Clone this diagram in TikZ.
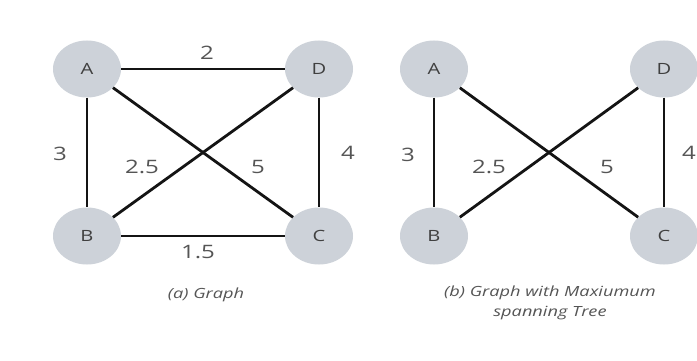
\documentclass[tikz,border=0pt]{standalone}
\usepackage{fontspec}
\usepackage{graphicx}
\setmainfont{Open Sans}
\usetikzlibrary{shapes.geometric}
\definecolor{nodefill}{HTML}{CDD2D9}
\definecolor{labelgray}{HTML}{555555}
\newcommand{\wid}[1]{\scalebox{1.3}[1]{#1}}
\begin{document}
\begin{tikzpicture}[x=1pt,y=-1pt,
  vertex/.style={ellipse,fill=nodefill,minimum width=68pt,minimum height=57pt,inner sep=0pt,
    font=\fontsize{15.5}{17}\selectfont,text=black!75},
  edge/.style={line width=2.8pt,draw=black!92},
  wlabel/.style={font=\fontsize{18.5}{20}\selectfont,text=labelgray,inner sep=0pt},
  caption/.style={font=\itshape\fontsize{14}{20}\selectfont,text=labelgray,align=center,inner sep=0pt}]
\clip (0,0) rectangle (697,361);
\useasboundingbox (0,0) rectangle (697,361);
\fill[white] (0,0) rectangle (697,361);
% left graph
\node[vertex] (A1) at (87,69) {\wid{A}};
\node[vertex] (D1) at (319,69) {\wid{D}};
\node[vertex] (B1) at (87,236) {\wid{B}};
\node[vertex] (C1) at (319,236) {\wid{C}};
\draw[edge] (A1) -- (D1);
\draw[edge] (A1) -- (B1);
\draw[edge] (D1) -- (C1);
\draw[edge] (B1) -- (C1);
\draw[edge] (A1) -- (C1);
\draw[edge] (B1) -- (D1);
\node[wlabel] (l2) at (207,53) {\wid{2}};
\node[wlabel] (l3) at (60,154) {\wid{3}};
\node[wlabel] (l25) at (142,167) {\wid{2.5}};
\node[wlabel] (l5) at (258,167) {\wid{5}};
\node[wlabel] (l4) at (348,153) {\wid{4}};
\node[wlabel] (l15) at (198,252) {\wid{1.5}};
\node[caption] (capa) at (206,295) {\wid{(a) Graph}};
% right graph
\node[vertex] (A2) at (434,69) {\wid{A}};
\node[vertex] (D2) at (664,69) {\wid{D}};
\node[vertex] (B2) at (434,236) {\wid{B}};
\node[vertex] (C2) at (664,236) {\wid{C}};
\draw[edge] (A2) -- (B2);
\draw[edge] (D2) -- (C2);
\draw[edge] (A2) -- (C2);
\draw[edge] (B2) -- (D2);
\node[wlabel] (r3) at (408,155) {\wid{3}};
\node[wlabel] (r25) at (489,167) {\wid{2.5}};
\node[wlabel] (r5) at (607,167) {\wid{5}};
\node[wlabel] (r4) at (689,153) {\wid{4}};
\node[caption] (capb) at (550,303) {\wid{(b) Graph with Maxiumum}\\\wid{spanning Tree}};
\end{tikzpicture}
\end{document}
